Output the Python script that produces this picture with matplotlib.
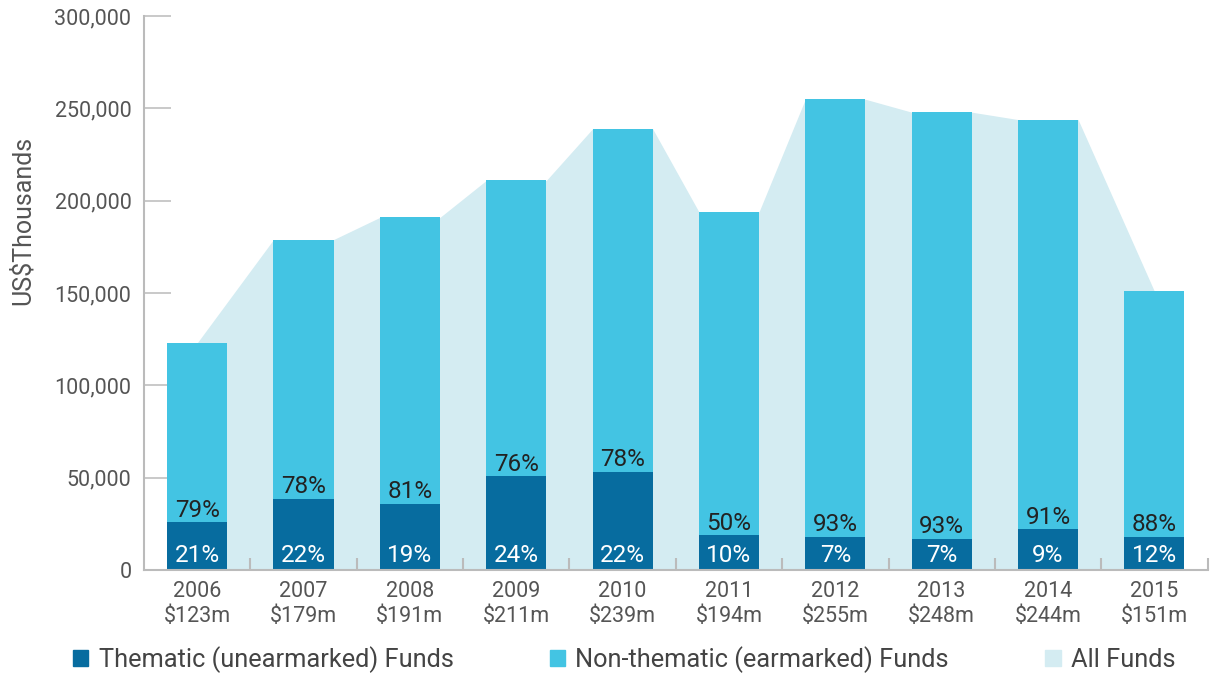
import matplotlib.pyplot as plt
from matplotlib.patches import Patch

# data (US$ thousands)
years = [2006, 2007, 2008, 2009, 2010, 2011, 2012, 2013, 2014, 2015]
total = [123000, 179000, 191000, 211000, 239000, 194000, 255000, 248000, 244000, 151000]
thematic = [25800, 38500, 36000, 50700, 53000, 18800, 17900, 17000, 22100, 18100]
pct_thematic = [21, 22, 19, 24, 22, 10, 7, 7, 9, 12]
pct_nonthematic = [79, 78, 81, 76, 78, 50, 93, 93, 91, 88]

c_dark = '#076c9f'
c_mid = '#43c4e3'
c_light = '#d4ecf2'
c_axis = '#bbbbbb'
c_text = '#555555'

plt.rcParams['font.family'] = ['Roboto', 'DejaVu Sans']

fig = plt.figure(figsize=(12.1, 6.73), dpi=100)
ax = fig.add_axes([0.119, 0.153, 0.879, 0.823])

w = 0.565
x = list(range(len(years)))

# all funds area, joins the bar tops
ax_pts, ay_pts = [x[0]], [total[0]]
for i in x[1:-1]:
    ax_pts += [i - w / 2, i + w / 2]
    ay_pts += [total[i], total[i]]
ax_pts.append(x[-1])
ay_pts.append(total[-1])
ax.fill_between(ax_pts, ay_pts, 0, color=c_light, lw=0, zorder=0.2)

nonthematic = [t - th for t, th in zip(total, thematic)]
ax.bar(x, thematic, width=w, color=c_dark, zorder=1)
ax.bar(x, nonthematic, bottom=thematic, width=w, color=c_mid, zorder=1)

for i in x:
    ax.annotate(f'{pct_thematic[i]}%', (i, 0), xytext=(0, 2.5), textcoords='offset points',
                ha='center', va='bottom', color='white', fontsize=17.5, zorder=3)
    ax.annotate(f'{pct_nonthematic[i]}%', (i, thematic[i]), xytext=(0, 0.5), textcoords='offset points',
                ha='center', va='bottom', color='#222222', fontsize=17.5, zorder=3)

ax.set_xlim(-0.5, len(years) - 0.5)
ax.set_ylim(0, 300000)
ax.set_yticks(range(0, 300001, 50000))
ax.set_yticklabels([f'{v:,}' for v in range(0, 300001, 50000)])
ax.set_xticks(x)
ax.set_xticklabels([f'{y}\n${t // 1000}m' for y, t in zip(years, total)])
ax.set_xticks([i + 0.5 for i in x], minor=True)
ax.set_axisbelow(True)

ax.tick_params(axis='y', direction='in', length=19.5, width=1.1, color=c_axis,
               labelsize=15.5, labelcolor=c_text, pad=9)
ax.tick_params(axis='x', which='major', length=0, labelsize=15.5, labelcolor=c_text, pad=8)
ax.tick_params(axis='x', which='minor', direction='in', length=9, width=1.5, color=c_axis)
for lab in ax.get_xticklabels():
    lab.set_linespacing(1.25)

for s in ['top', 'right']:
    ax.spines[s].set_visible(False)
for s in ['left', 'bottom']:
    ax.spines[s].set_color(c_axis)
    ax.spines[s].set_linewidth(1.5)

fig.text(0.019, 0.672, 'US$Thousands', rotation=90, ha='center', va='center',
         fontsize=18, color=c_text)

handles = [Patch(color=c_dark), Patch(color=c_mid), Patch(color=c_light)]
labels = ['Thematic (unearmarked) Funds', 'Non-thematic (earmarked) Funds', 'All Funds']
fig.legend(handles, labels, loc='center left', bbox_to_anchor=(0.052, 0.02), ncol=3,
           frameon=False, fontsize=18.3, labelcolor='#444444', handlelength=0.6,
           handleheight=0.6, handletextpad=0.4, columnspacing=3.8, borderaxespad=0)

plt.savefig('out.png', dpi=100)
